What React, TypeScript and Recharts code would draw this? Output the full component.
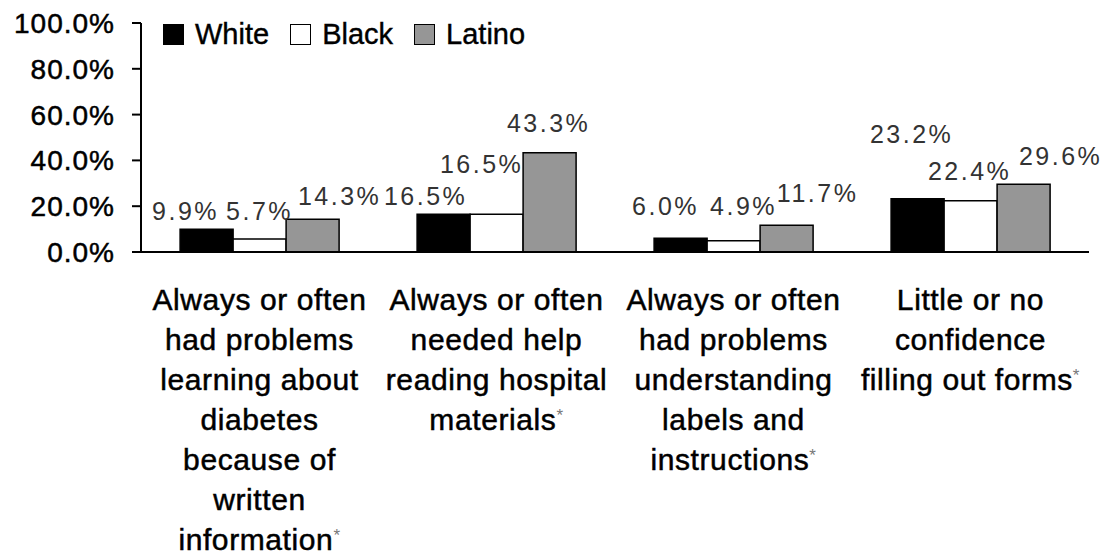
import React from 'react';
import { BarChart, Bar, XAxis, YAxis, LabelList, Legend } from 'recharts';

const categoryLines: string[][] = [
  ['Always or often', 'had problems', 'learning about', 'diabetes', 'because of', 'written', 'information*'],
  ['Always or often', 'needed help', 'reading hospital', 'materials*'],
  ['Always or often', 'had problems', 'understanding', 'labels and', 'instructions*'],
  ['Little or no', 'confidence', 'filling out forms*'],
];
const categories = categoryLines.map((l) => l.join(' '));
const seriesNames = ['White', 'Black', 'Latino'];
const whiteValues = [9.9, 16.5, 6.0, 23.2];
const blackValues = [5.7, 16.5, 4.9, 22.4];
const latinoValues = [14.3, 43.3, 11.7, 29.6];
const yTicks = [0, 20, 40, 60, 80, 100];
const boundaryTicks = [0, 1, 2, 3, 4];

// label nudges relative to each bar's top-centre: [dx, distance above top]
const whiteNudge = [[-21, 9], [-18, 9], [-15, 23], [-6, 56]];
const blackNudge = [[0, 19], [-15, 41], [10, 26], [-1, 21]];
const latinoNudge = [[27, 14], [-1, 21], [31, 23], [37, 19]];

const seriesColors = ['#000000', '#ffffff', '#969696'];

const data = categories.map((name, i) => ({
  name,
  White: whiteValues[i],
  Black: blackValues[i],
  Latino: latinoValues[i],
}));

const FONT = '"Liberation Sans", Arial, Helvetica, sans-serif';

const makeLabel = (nudge: number[][]) => (props: any) => {
  const { x, y, width, value, index } = props;
  const [dx, dy] = nudge[index];
  return (
    <text
      x={Number(x) + Number(width) / 2 + dx}
      y={Number(y) - dy}
      textAnchor="middle"
      fontSize={25}
      letterSpacing={2.5}
      fill="#333"
      fontFamily={FONT}
    >
      {`${Number(value).toFixed(1)}%`}
    </text>
  );
};

const CategoryTick = (props: any) => {
  const { x, y, payload } = props;
  const idx = categories.indexOf(payload.value);
  const lines = categoryLines[idx] || [];
  return (
    <text
      x={x}
      y={y}
      textAnchor="middle"
      fontSize={30}
      letterSpacing={0.6}
      fill="#000"
      stroke="#000"
      strokeWidth={0.5}
      fontFamily={FONT}
    >
      {lines.map((ln, i) => {
        const star = ln.endsWith('*');
        const main = star ? ln.slice(0, -1) : ln;
        return (
          <React.Fragment key={i}>
            <tspan x={x} dy={i === 0 ? 45 : 40}>{main}</tspan>
            {star && (
              <tspan fontSize={17} fill="#777" stroke="none" dy={-9}>*</tspan>
            )}
            {star && <tspan dy={9}>{''}</tspan>}
          </React.Fragment>
        );
      })}
    </text>
  );
};

const YTick = (props: any) => {
  const { x, y, payload } = props;
  return (
    <text
      x={x}
      y={y}
      dy={10}
      textAnchor="end"
      fontSize={28}
      letterSpacing={1}
      fill="#000"
      stroke="#000"
      strokeWidth={0.5}
      fontFamily={FONT}
    >
      {`${Number(payload.value).toFixed(1)}%`}
    </text>
  );
};

const LegendRow = () => (
  <div style={{ display: 'flex', alignItems: 'center', fontFamily: FONT, fontSize: 29, lineHeight: '29px', color: '#000', whiteSpace: 'nowrap', WebkitTextStroke: '0.4px #000' }}>
    {seriesNames.map((n, i) => (
      <React.Fragment key={n}>
        <span
          style={{
            display: 'inline-block',
            width: 19,
            height: 19,
            background: seriesColors[i],
            border: '1.5px solid #000',
            marginRight: 11,
          }}
        />
        <span style={{ marginRight: 21 }}>{n}</span>
      </React.Fragment>
    ))}
  </div>
);

export default function App() {
  return (
    <div style={{ position: 'absolute', left: 0, top: 0, width: 1107, height: 555, background: '#fff' }}>
      <BarChart
        width={1107}
        height={555}
        data={data}
        margin={{ top: 23, right: 18, left: 0, bottom: 0 }}
        barCategoryGap="16.5%"
        barGap={0}
      >
        <XAxis
          xAxisId="b"
          dataKey="name"
          height={290}
          axisLine={false}
          tickLine={false}
          tickSize={0}
          tickMargin={0}
          interval={0}
          tick={<CategoryTick />}
        />
        <XAxis
          xAxisId="a"
          type="number"
          domain={[0, 4]}
          ticks={boundaryTicks}
          allowDataOverflow
          tick={false}
          tickSize={10}
          height={13}
          axisLine={{ stroke: '#000', strokeWidth: 2 }}
          tickLine={{ stroke: '#000', strokeWidth: 2 }}
        />
        <YAxis
          width={141}
          domain={[0, 100]}
          ticks={yTicks}
          interval={0}
          tick={<YTick />}
          tickSize={9}
          tickMargin={17}
          axisLine={{ stroke: '#000', strokeWidth: 2 }}
          tickLine={{ stroke: '#000', strokeWidth: 2 }}
        />
        <Legend
          layout="vertical"
          align="center"
          verticalAlign="middle"
          wrapperStyle={{ top: 20, left: 163, width: 'auto', height: 'auto' }}
          content={() => <LegendRow />}
        />
        <Bar xAxisId="b" dataKey="White" fill={seriesColors[0]} stroke="#000" strokeWidth={1.5} isAnimationActive={false}>
          <LabelList dataKey="White" content={makeLabel(whiteNudge)} />
        </Bar>
        <Bar xAxisId="b" dataKey="Black" fill={seriesColors[1]} stroke="#000" strokeWidth={1.5} isAnimationActive={false}>
          <LabelList dataKey="Black" content={makeLabel(blackNudge)} />
        </Bar>
        <Bar xAxisId="b" dataKey="Latino" fill={seriesColors[2]} stroke="#000" strokeWidth={1.5} isAnimationActive={false}>
          <LabelList dataKey="Latino" content={makeLabel(latinoNudge)} />
        </Bar>
      </BarChart>
    </div>
  );
}
